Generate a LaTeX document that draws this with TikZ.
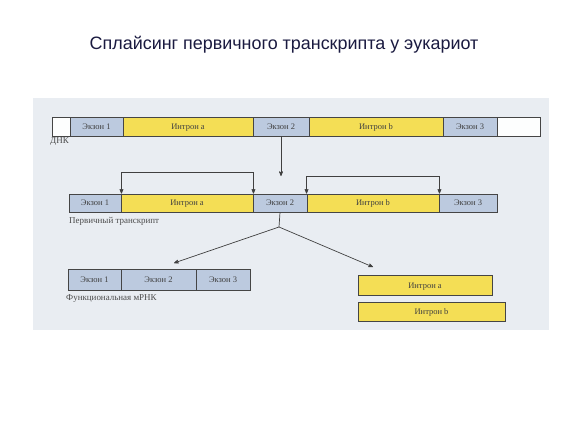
\documentclass[tikz,border=0pt]{standalone}
\usepackage{fontspec}
\setmainfont{Liberation Serif}
\newfontfamily\titlefont{Liberation Sans}
\usepackage{tikz}
\usetikzlibrary{arrows}

\definecolor{panelbg}{HTML}{E9EDF2}
\definecolor{exonfill}{HTML}{BCCADF}
\definecolor{intronfill}{HTML}{F4DE55}
\definecolor{boxline}{HTML}{454545}
\definecolor{titleblue}{HTML}{1A1A40}

\begin{document}
\begin{tikzpicture}[x=1bp,y=-1bp]
            \tikzstyle{every node}+=[inner sep=0pt]
            \tikzstyle{seg}=[draw=boxline,line width=0.9pt,minimum height=19bp,text height=1.5ex,text depth=.3ex,font=\fontsize{8.5}{9}\selectfont,text=black!75]
            \tikzstyle{exon}=[seg,fill=exonfill]
            \tikzstyle{intron}=[seg,fill=intronfill]
            \tikzstyle{blank}=[seg,fill=white!92!panelbg]
            \tikzstyle{caption}=[anchor=west,font=\fontsize{9}{10}\selectfont,text=black!70]
            \tikzstyle{conn}=[draw=black!75,line width=0.7pt,>=stealth']
            \useasboundingbox (0,0) rectangle (567,425);
            \fill [white] (0,0) rectangle (567,425);
            \fill [panelbg] (33,98) rectangle (549,330);
            \node [font=\titlefont\fontsize{18}{21}\selectfont,text=titleblue] (title) at (284,45) {Сплайсинг первичного транскрипта у эукариот};
            % DNA
            \node [blank,minimum width=18bp] (d0) at (61,126.5) {};
            \node [exon,minimum width=53bp] (dE1) at (96.5,126.5) {Экзон 1};
            \node [intron,minimum width=130bp] (dIa) at (188,126.5) {Интрон a};
            \node [exon,minimum width=56bp] (dE2) at (281,126.5) {Экзон 2};
            \node [intron,minimum width=134bp] (dIb) at (376,126.5) {Интрон b};
            \node [exon,minimum width=54bp] (dE3) at (470,126.5) {Экзон 3};
            \node [blank,minimum width=43bp] (d4) at (518.5,126.5) {};
            \node [caption] (dnk) at (50,142) {ДНК};
            % primary transcript
            \node [exon,minimum width=52bp,minimum height=18bp] (tE1) at (95,203) {Экзон 1};
            \node [intron,minimum width=132bp,minimum height=18bp] (tIa) at (187,203) {Интрон a};
            \node [exon,minimum width=54bp,minimum height=18bp] (tE2) at (280,203) {Экзон 2};
            \node [intron,minimum width=132bp,minimum height=18bp] (tIb) at (373,203) {Интрон b};
            \node [exon,minimum width=58bp,minimum height=18bp] (tE3) at (468,203) {Экзон 3};
            \node [caption] (pt) at (69,221) {Первичный транскрипт};
            % products
            \node [exon,minimum width=53bp,minimum height=21bp] (mE1) at (94.5,279.5) {Экзон 1};
            \node [exon,minimum width=75bp,minimum height=21bp] (mE2) at (158.5,279.5) {Экзон 2};
            \node [exon,minimum width=54bp,minimum height=21bp] (mE3) at (223,279.5) {Экзон 3};
            \node [caption] (mrna) at (66,299) {Функциональная мРНК};
            \node [intron,minimum width=134bp,minimum height=20bp] (rIa) at (425,285.5) {Интрон a};
            \node [intron,minimum width=147bp,minimum height=19bp] (rIb) at (431.5,311.5) {Интрон b};
            % connectors
            \coordinate (vEnd) at (281,176);
            \coordinate (split) at (279,227);
            \coordinate (lEnd) at (174,263);
            \coordinate (rEnd) at (373,267);
            \draw [conn,->] (dE2.south) -- (vEnd);
            \draw [conn,<->] (tE1.north east) -- ++(0,-21) -| (tIa.north east);
            \draw [conn,<->] (tIb.north west) -- ++(0,-17) -| (tIb.north east);
            \draw [conn] (tE2.south) -- (split);
            \draw [conn,->] (split) -- (lEnd);
            \draw [conn,->] (split) -- (rEnd);
          \end{tikzpicture}
\end{document}
